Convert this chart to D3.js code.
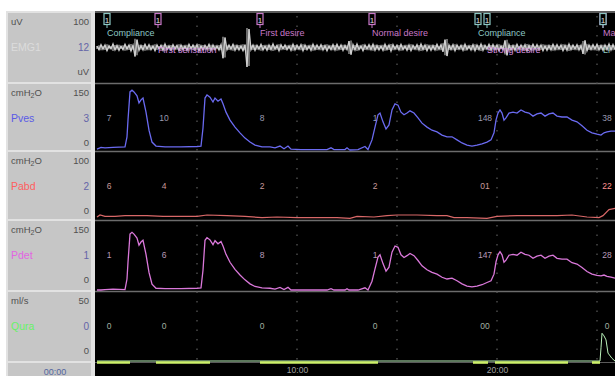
<!DOCTYPE html>
<html><head><meta charset="utf-8">
<script src="https://cdn.jsdelivr.net/npm/d3@7/dist/d3.min.js"></script>
<style>html,body{margin:0;padding:0;background:#fff;overflow:hidden}svg{display:block;font-family:"Liberation Sans",Arial,sans-serif}</style>
</head><body><svg id="c" width="615" height="376"></svg>
<script>
// ---------- data (time in minutes) ----------
const channelNames = ["EMG1","Pves","Pabd","Pdet","Qura"];
const channelUnits = ["uV","cmH2O","cmH2O","cmH2O","ml/s"];
const channelMax = ["100","150","100","150","50"];
const channelCurrent = ["12","3","2","1","0"];
const channelMin = ["uV","0","0","0","0"];

const timeTicks = [10, 20];
const timeTickLabels = ["10:00","20:00"];
const gridTimes = [5, 10, 15, 20, 25];

const pves = [[0,2],[0.2,6],[0.4,5],[0.8,6],[1.4,7],[1.5,30],[1.55,68],[1.65,132],[1.75,136],[1.85,132],[2.0,123],[2.1,107],[2.2,114],[2.3,118],[2.45,86],[2.6,45],[2.75,18],[2.95,9],[3.4,7],[4.2,7],[5.0,8],[5.2,9],[5.3,50],[5.4,118],[5.5,125],[5.65,120],[5.8,109],[5.9,118],[6.05,111],[6.2,116],[6.3,105],[6.45,86],[6.65,68],[6.9,52],[7.15,39],[7.4,27],[7.65,18],[7.9,11],[8.25,7],[8.65,7],[8.9,5],[9.15,9],[9.35,3],[9.55,9],[9.7,2],[10.2,1],[11.5,1],[11.7,5],[11.85,1],[12.4,1],[12.5,5],[12.6,1],[12.65,0],[13.05,1],[13.4,8],[13.55,1],[13.75,23],[13.9,52],[14.05,80],[14.15,84],[14.3,64],[14.45,48],[14.6,57],[14.75,91],[14.9,105],[15.05,102],[15.2,86],[15.35,80],[15.5,84],[15.65,89],[15.85,84],[16.05,73],[16.25,61],[16.5,52],[16.75,45],[17.0,41],[17.25,34],[17.5,30],[17.75,30],[18.0,23],[18.25,16],[18.5,11],[18.75,9],[19.0,11],[19.25,14],[19.5,18],[19.7,23],[19.85,39],[19.95,68],[20.05,84],[20.15,91],[20.25,84],[20.35,68],[20.45,73],[20.6,84],[20.8,86],[21.0,84],[21.2,91],[21.4,86],[21.6,84],[21.8,77],[22.0,82],[22.2,84],[22.4,77],[22.6,82],[22.8,84],[23.0,77],[23.25,75],[23.5,75],[23.75,68],[24.0,64],[24.25,55],[24.5,45],[24.75,39],[25.0,36],[25.2,34],[25.35,39],[25.5,41],[25.7,43],[25.9,43]];

const pabd = [[0,3],[0.15,6],[0.4,4],[0.9,4],[1.4,5],[2.1,5],[2.5,5],[3.3,4],[5.0,4],[5.5,6],[6.5,5],[7.4,4],[8.25,2],[9.0,3],[10.0,2],[12.0,2],[12.65,1],[13.0,4],[13.85,3],[14.5,5],[15.0,6],[16.0,6],[17.0,5],[17.5,5],[17.85,2],[18.5,2],[19.5,1],[20.0,4],[21.0,5],[22.0,5],[23.0,5],[23.75,6],[24.5,3],[25.1,2],[25.3,5],[25.6,14],[25.9,16]];

const pdet = [[0,0],[0.2,0],[0.4,1],[0.8,2],[1.4,1],[1.5,25],[1.55,63],[1.65,127],[1.75,131],[1.85,127],[2.0,118],[2.1,102],[2.2,109],[2.3,113],[2.45,81],[2.6,40],[2.75,13],[2.95,4],[3.4,3],[4.2,3],[5.0,4],[5.2,5],[5.3,45],[5.4,113],[5.5,119],[5.65,114],[5.8,103],[5.9,112],[6.05,105],[6.2,110],[6.3,100],[6.45,81],[6.65,63],[6.9,47],[7.15,34],[7.4,23],[7.65,14],[7.9,8],[8.25,5],[8.65,4],[8.9,2],[9.15,6],[9.35,1],[9.55,6],[9.7,0],[10.2,0],[11.5,0],[11.7,3],[11.85,0],[12.4,0],[12.5,3],[12.6,0],[13.05,0],[13.4,5],[13.55,0],[13.75,20],[13.9,48],[14.05,75],[14.15,80],[14.3,60],[14.45,43],[14.6,52],[14.75,86],[14.9,100],[15.05,97],[15.2,80],[15.35,74],[15.5,78],[15.65,83],[15.85,78],[16.05,67],[16.25,55],[16.5,46],[16.75,40],[17.0,36],[17.25,29],[17.5,25],[17.75,27],[18.0,21],[18.25,14],[18.5,9],[18.75,7],[19.0,9],[19.25,12],[19.5,17],[19.7,21],[19.85,36],[19.95,64],[20.05,80],[20.15,87],[20.25,80],[20.35,63],[20.45,68],[20.6,79],[20.8,81],[21.0,79],[21.2,86],[21.4,81],[21.6,79],[21.8,72],[22.0,77],[22.2,79],[22.4,72],[22.6,77],[22.8,79],[23.0,72],[23.25,70],[23.5,70],[23.75,62],[24.0,59],[24.25,51],[24.5,42],[24.75,36],[25.0,33],[25.2,32],[25.35,34],[25.5,31],[25.7,29],[25.9,27]];

const qura = [[0,0],[25.15,0],[25.2,10],[25.25,21],[25.35,19],[25.45,16],[25.55,6],[25.75,2],[25.9,0]];

// EMG amplitude (uV), one sample every 0.1 min
const emg = [4,-6,8,-5,7,-9,5,-4,10,-7,6,-8,4,-6,9,-5,7,-10,6,-25,
22,-8,6,-7,9,-5,8,-6,5,-9,7,-4,6,-8,10,-6,5,-7,8,-5,
6,-9,7,-6,5,-8,9,-4,7,-6,8,-10,5,-7,6,-5,9,-8,7,-6,
5,-7,8,-30,28,-6,7,-5,9,-8,6,-7,5,-9,8,-55,52,-6,7,-8,
6,-5,9,-7,5,-8,7,-6,10,-5,6,-9,8,-4,7,-6,5,-8,9,-7,
6,-5,8,-9,7,-6,5,-8,9,-6,7,-5,8,-7,6,-9,5,-6,8,-7,
9,-5,7,-8,6,-6,18,-20,8,-7,10,-6,5,-9,7,-5,8,-6,9,-8,
6,-7,5,-8,9,-6,7,-10,8,-5,6,-7,9,-6,5,-8,7,-9,6,-5,
8,-7,10,-6,7,-9,5,-8,6,-7,9,-5,8,-12,22,-24,7,-6,8,-9,
7,-5,6,-8,9,-6,5,-7,8,-9,7,-6,10,-8,6,-5,9,-7,8,-6,
7,-9,5,-6,20,-22,8,-7,6,-8,9,-5,7,-6,8,-10,6,-7,9,-5,
8,-6,7,-9,5,-8,6,-7,9,-6,8,-5,7,-9,6,-8,10,-6,7,-5,
8,-7,6,-18,20,-9,7,-6,8,-5,9,-7,6,-8,7,-6,10,-7,8,-6];

// event markers
const markerTimes = [0.5, 3.05, 8.15, 13.75, 19.05, 19.5, 25.3, 25.3];
const markerLabels = ["Compliance","First sensation","First desire","Normal desire","Compliance","Strong desire","Ma","Li"];
const markerKinds = ["note","sens","sens","sens","note","note","sens","note"];
const labelKinds = ["note","sens","sens","sens","note","sens","sens","note"];
const markerRows = [0,1,0,0,0,1,0,1];

// value readouts shown inside each channel
const readoutTimes = [0.6, 3.35, 8.25, 13.9, 19.4, 25.5];
const pvesReadouts = ["7","10","8","1","148","38"];
const pabdReadouts = ["6","4","2","2","01","22"];
const pdetReadouts = ["1","6","8","1","147","28"];
const quraReadouts = ["0","0","0","0","00","0"];

// infusion pump running intervals
const pumpStart = [0, 2.95, 8.15, 18.8, 19.9, 24.75];
const pumpEnd   = [1.65, 5.65, 14.05, 19.55, 23.55, 25.15];

// ---------- drawing ----------
const svg = d3.select("#c");
const rowTop = [12, 83, 151, 220, 291];
const rowBottom = 362;
const x = d3.scaleLinear().domain([0, 25.9]).range([97, 615]);
const yEmg = d3.scaleLinear().domain([-100, 100]).range([83, 12]);
const yPves = d3.scaleLinear().domain([0, 150]).range([150, 84]);
const yPabd = d3.scaleLinear().domain([0, 100]).range([219, 152]);
const yPdet = d3.scaleLinear().domain([0, 150]).range([290, 224]);
const yFlow = d3.scaleLinear().domain([0, 50]).range([361, 295]);

svg.append("rect").attr("width",615).attr("height",376).attr("fill","#ffffff");
// left panel
svg.append("rect").attr("x",6).attr("y",11).attr("width",89).attr("height",365).attr("fill","#e2e2e2");
const rowsB = rowTop.slice(1).concat([rowBottom]);
rowTop.forEach((t,i)=>{
  svg.append("rect").attr("x",8).attr("y",t+1).attr("width",83).attr("height",rowsB[i]-t-2).attr("fill","#c6c6c6");
});
svg.append("rect").attr("x",8).attr("y",rowBottom+1).attr("width",83).attr("height",376-rowBottom).attr("fill","#c6c6c6");

const channelColors = ["#dcdcdc","#5a5ae6","#ff5e5e","#e264e2","#66f266"];
rowTop.forEach((t,i)=>{
  const u = svg.append("text").attr("x",11).attr("y",t+13).attr("font-size",9.5).attr("fill","#505050");
  if (channelUnits[i]==="cmH2O") {
    u.append("tspan").text("cmH");
    u.append("tspan").text("2").attr("font-size",7).attr("dy",2);
    u.append("tspan").text("O").attr("dy",-2);
  } else u.text(channelUnits[i]);
  svg.append("text").attr("x",89).attr("y",t+13).attr("text-anchor","end").attr("font-size",9.5).attr("fill","#505050").text(channelMax[i]);
  svg.append("text").attr("x",11).attr("y",t+39).attr("font-size",10.5).attr("fill",channelColors[i]).text(channelNames[i]);
  svg.append("text").attr("x",89).attr("y",t+39).attr("text-anchor","end").attr("font-size",10).attr("fill","#6464a8").text(channelCurrent[i]);
  svg.append("text").attr("x",89).attr("y",t+63).attr("text-anchor","end").attr("font-size",9.5).attr("fill","#505050").text(channelMin[i]);
});
svg.append("text").attr("x",55).attr("y",375).attr("text-anchor","middle").attr("font-size",9).attr("fill","#5466a0").text("00:00");

// plot area
svg.append("rect").attr("x",95).attr("y",11).attr("width",520).attr("height",365).attr("fill","#000");
svg.append("line").attr("x1",95).attr("x2",615).attr("y1",12).attr("y2",12).attr("stroke","#777").attr("stroke-width",1.5);
rowTop.slice(1).forEach(t=>{
  svg.append("line").attr("x1",95).attr("x2",615).attr("y1",t+0.5).attr("y2",t+0.5).attr("stroke","#6c6c6c").attr("stroke-width",1.6);
});
svg.append("line").attr("x1",95).attr("x2",615).attr("y1",rowBottom+0.5).attr("y2",rowBottom+0.5).attr("stroke","#5a5a5a").attr("stroke-width",1);

// dotted time grid
gridTimes.forEach(g=>{
  svg.append("line").attr("x1",x(g)).attr("x2",x(g)).attr("y1",16).attr("y2",rowBottom-2)
    .attr("stroke","#555").attr("stroke-width",1.3).attr("stroke-dasharray","1.5,8");
});

// readouts
const readouts = [pvesReadouts,pabdReadouts,pdetReadouts,quraReadouts];
const readoutColors = ["#9a9ab0","#c89a9a","#b89ab8","#a0b0a0"];
readouts.forEach((arr,k)=>{
  const t = rowTop[k+1];
  arr.forEach((s,j)=>{
    svg.append("text").attr("x",x(readoutTimes[j])).attr("y",t+38).attr("text-anchor","middle")
      .attr("font-size",8.5).attr("fill", (k===1&&j===5)?"#ff9090":readoutColors[k]).text(s);
  });
});

// marker labels
const kindColor = {note:"#8cc8c4", sens:"#c878c8"};
markerTimes.forEach((m,i)=>{
  svg.append("text").attr("x",x(m)).attr("y",markerRows[i]===0?36:53).attr("font-size",9)
    .attr("fill",markerRows[i]===1 && labelKinds[i]==="sens" ? "#d890e0" : kindColor[labelKinds[i]])
    .attr("class","lab"+markerRows[i]).text(markerLabels[i]);
});

// EMG trace: envelope bars + zigzag
const emgG = svg.append("g");
emgG.selectAll("line").data(emg).join("line")
  .attr("x1",(d,i)=>x(i*0.1)).attr("x2",(d,i)=>x(i*0.1))
  .attr("y1",d=>yEmg(Math.abs(d))).attr("y2",d=>yEmg(-Math.abs(d)))
  .attr("stroke","#b4b4b4").attr("stroke-width",1.2);
const emgLine = d3.line().x((d,i)=>x(i*0.1)).y(d=>yEmg(d));
svg.append("path").datum(emg).attr("d",emgLine).attr("fill","none").attr("stroke","#cfcfcf").attr("stroke-width",1.3);
svg.selectAll("text.lab1").raise();

// marker boxes
markerTimes.forEach((m,i)=>{
  const mx = x(m);
  const c = kindColor[markerKinds[i]];
  svg.append("rect").attr("x",mx-3).attr("y",13.5).attr("width",6).attr("height",11).attr("fill","#000").attr("stroke",c).attr("stroke-width",1.2);
  svg.append("text").attr("x",mx).attr("y",22.5).attr("text-anchor","middle").attr("font-size",8).attr("fill","#e0e0e0").text("1");
  svg.append("line").attr("x1",mx).attr("x2",mx).attr("y1",25).attr("y2",28).attr("stroke",c).attr("stroke-width",1);
});

// pressure & flow traces
const line = (ys)=>d3.line().x(d=>x(d[0])).y(d=>ys(d[1]));
svg.append("path").datum(pabd).attr("d",line(yPabd)).attr("fill","none").attr("stroke","#d86868").attr("stroke-width",1.2);
svg.append("path").datum(pves).attr("d",line(yPves)).attr("fill","none").attr("stroke","#6a6af0").attr("stroke-width",1.3);
svg.append("path").datum(pdet).attr("d",line(yPdet)).attr("fill","none").attr("stroke","#da78da").attr("stroke-width",1.3);
svg.append("path").datum(qura).attr("d",line(yFlow)).attr("fill","none").attr("stroke","#b8f0b8").attr("stroke-width",1);

// pump bar
pumpStart.forEach((s,i)=>{
  svg.append("line").attr("x1",x(s)).attr("x2",x(pumpEnd[i])).attr("y1",362.5).attr("y2",362.5)
    .attr("stroke","#cdf06a").attr("stroke-width",2.6);
});

// time axis
const ax = svg.append("g").attr("transform","translate(0,366)")
  .call(d3.axisBottom(x).tickValues(timeTicks).tickSize(0).tickFormat((d,i)=>timeTickLabels[i]));
ax.select(".domain").remove();
ax.selectAll("text").attr("fill","#a0a0a0").attr("font-size",8.5).attr("dy","0.5em").attr("font-family","Liberation Sans, Arial, sans-serif");
</script></body></html>
